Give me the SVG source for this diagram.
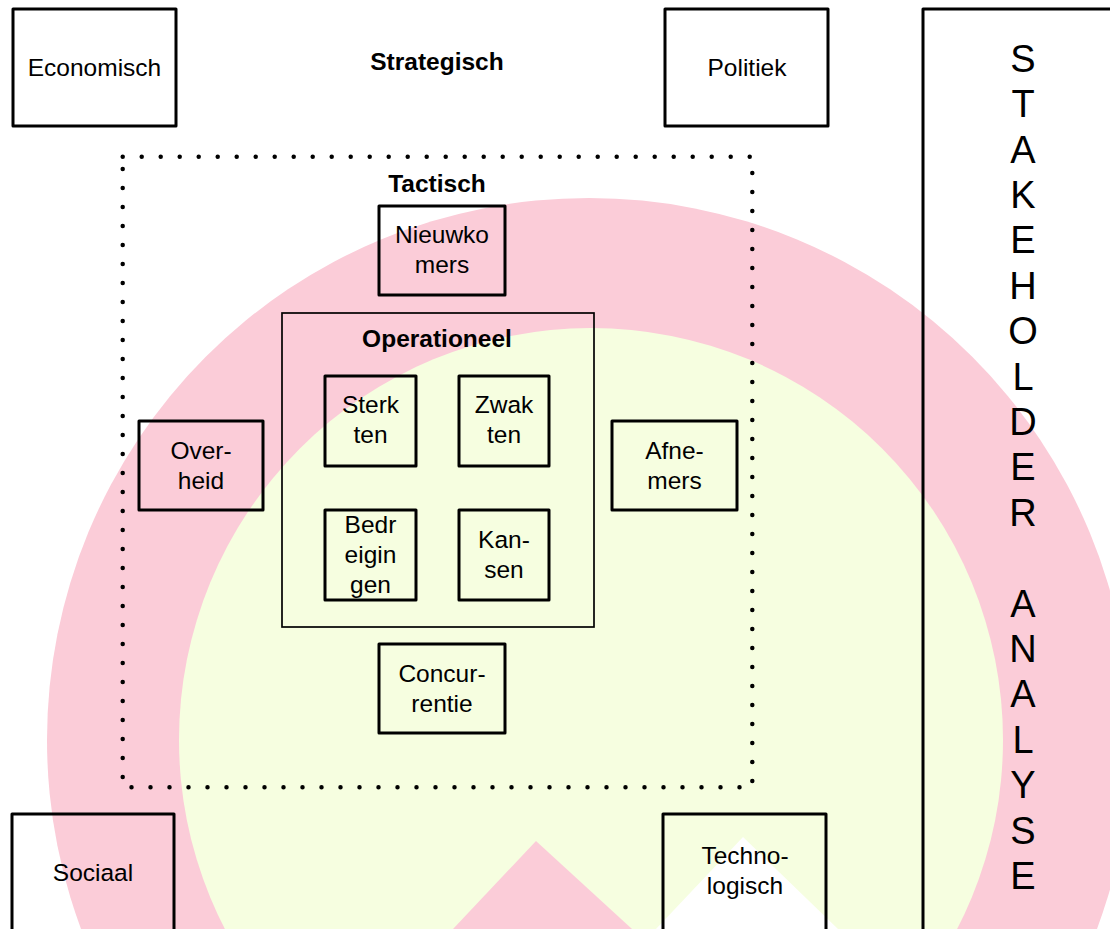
<svg xmlns="http://www.w3.org/2000/svg" width="1110" height="929" viewBox="0 0 1110 929">
  <style>
    text { font-family: "Liberation Sans", Arial, sans-serif; font-size: 24.5px; fill: #000; text-anchor: middle; }
    .bold { font-weight: bold; }
    .box { fill: none; stroke: #000; stroke-width: 3; stroke-linejoin: round; }
    .thin { fill: none; stroke: #000; stroke-width: 1.7; }
    .dots { fill: none; stroke: #000; stroke-width: 4.5; stroke-linecap: round; stroke-dasharray: 0 19; }
    .vert { font-size: 38px; }
  </style>

  <!-- background: rings and shapes -->
  <g id="background">
    <rect width="1110" height="929" fill="#ffffff"/>
    <circle cx="589" cy="740" r="542" fill="#FBCCD8"/>
    <circle cx="591" cy="740" r="412" fill="#F6FEE0"/>
    <polygon points="536,841 453,929 632,929" fill="#FBCCD8"/>
    <polygon points="743,837 656,929 838,929" fill="#ffffff"/>
  </g>

  <!-- strategic level -->
  <g id="economisch">
    <rect class="box" x="13" y="9" width="163" height="117"/>
    <text x="94.5" y="76">Economisch</text>
  </g>
  <g id="strategisch">
    <text class="bold" x="437" y="70">Strategisch</text>
  </g>
  <g id="politiek">
    <rect class="box" x="665" y="9" width="163" height="117"/>
    <text x="747" y="76">Politiek</text>
  </g>
  <g id="sociaal">
    <rect class="box" x="12" y="814" width="162" height="118"/>
    <text x="93" y="881">Sociaal</text>
  </g>
  <g id="technologisch">
    <rect class="box" x="663" y="814" width="163" height="118"/>
    <text x="745" y="864">Techno-</text>
    <text x="745" y="894">logisch</text>
  </g>

  <!-- tactical level -->
  <g id="tactisch">
    <path class="dots" d="M122.7,156.7 H752.3 V787.3 H122.7 Z"/>
    <text class="bold" x="437" y="192">Tactisch</text>
  </g>
  <g id="nieuwkomers">
    <rect class="box" x="379" y="206" width="126" height="89"/>
    <text x="442" y="243">Nieuwko</text>
    <text x="442" y="273">mers</text>
  </g>
  <g id="overheid">
    <rect class="box" x="139" y="421" width="124" height="89"/>
    <text x="201" y="459">Over-</text>
    <text x="201" y="489">heid</text>
  </g>
  <g id="afnemers">
    <rect class="box" x="612" y="421" width="125" height="89"/>
    <text x="674.5" y="459">Afne-</text>
    <text x="674.5" y="489">mers</text>
  </g>
  <g id="concurrentie">
    <rect class="box" x="379" y="644" width="126" height="89"/>
    <text x="442" y="682">Concur-</text>
    <text x="442" y="712">rentie</text>
  </g>

  <!-- operational level -->
  <g id="operationeel">
    <rect class="thin" x="282" y="313" width="312" height="314"/>
    <text class="bold" x="437" y="347">Operationeel</text>
  </g>
  <g id="sterkten">
    <rect class="box" x="325" y="376" width="91" height="90"/>
    <text x="370.5" y="413">Sterk</text>
    <text x="370.5" y="443">ten</text>
  </g>
  <g id="zwakten">
    <rect class="box" x="459" y="376" width="90" height="90"/>
    <text x="504" y="413">Zwak</text>
    <text x="504" y="443">ten</text>
  </g>
  <g id="bedreigingen">
    <rect class="box" x="325" y="510" width="91" height="90"/>
    <text x="370.5" y="533">Bedr</text>
    <text x="370.5" y="563">eigin</text>
    <text x="370.5" y="593">gen</text>
  </g>
  <g id="kansen">
    <rect class="box" x="459" y="510" width="90" height="90"/>
    <text x="504" y="548">Kan-</text>
    <text x="504" y="578">sen</text>
  </g>

  <!-- stakeholder analysis column -->
  <g id="stakeholderanalyse">
    <rect class="box" x="923" y="9" width="200" height="940"/>
    <text class="vert" x="1023" y="71.7">S</text>
    <text class="vert" x="1023" y="117.1">T</text>
    <text class="vert" x="1023" y="162.5">A</text>
    <text class="vert" x="1023" y="207.9">K</text>
    <text class="vert" x="1023" y="253.3">E</text>
    <text class="vert" x="1023" y="298.7">H</text>
    <text class="vert" x="1023" y="344.1">O</text>
    <text class="vert" x="1023" y="389.5">L</text>
    <text class="vert" x="1023" y="434.9">D</text>
    <text class="vert" x="1023" y="480.3">E</text>
    <text class="vert" x="1023" y="525.7">R</text>
    <text class="vert" x="1023" y="616.5">A</text>
    <text class="vert" x="1023" y="661.9">N</text>
    <text class="vert" x="1023" y="707.3">A</text>
    <text class="vert" x="1023" y="752.7">L</text>
    <text class="vert" x="1023" y="798.1">Y</text>
    <text class="vert" x="1023" y="843.5">S</text>
    <text class="vert" x="1023" y="888.9">E</text>
  </g>
</svg>
